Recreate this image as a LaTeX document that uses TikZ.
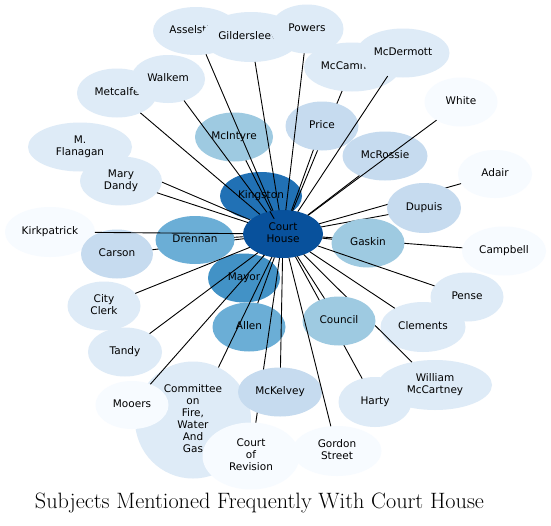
\documentclass[tikz,border=0pt]{standalone}
\usepackage{fontspec}
\usepackage{graphicx}
\newfontfamily\dvsans{DejaVu Sans}
\usetikzlibrary{shapes.geometric}
\definecolor{bz}{HTML}{F7FBFF}
\definecolor{ba}{HTML}{DEEBF7}
\definecolor{bb}{HTML}{C6DBEF}
\definecolor{bc}{HTML}{9ECAE1}
\definecolor{bd}{HTML}{6BAED6}
\definecolor{be}{HTML}{4292C6}
\definecolor{bf}{HTML}{2171B5}
\definecolor{bg}{HTML}{08519C}
\tikzset{
  bub/.style={ellipse, draw=none, inner sep=0pt, outer sep=0pt,
    font=\dvsans\fontsize{10.5}{12}\selectfont},
  link/.style={draw=black, line width=0.9pt},
}
\newcommand\bubble[7]{\node[bub, fill=#2, minimum width=#3pt, minimum height=#4pt] (#1) at (#5,#6)
  {\makebox[0pt]{\begin{tabular}{@{}c@{}}#7\end{tabular}}};}
\newcommand\lnk[1]{\draw[link] (ch) -- (#1);}
\begin{document}
\begin{tikzpicture}[x=1pt,y=-1pt]
\useasboundingbox (0,0) rectangle (551,525);
\fill[white] (0,0) rectangle (551,525);
\bubble{kingston}{bf}{82}{48}{261}{196}{Kingston}
\bubble{mayor}{be}{72}{49}{244}{278}{Mayor}
\bubble{ch}{bg}{80}{48}{283}{234}{Court\\House}
\lnk{kingston}\lnk{mayor}
\bubble{allen}{bd}{73}{49}{249}{327}{Allen}\lnk{allen}
\bubble{kirk}{bz}{90}{50}{50}{232}{Kirkpatrick}
\bubble{carson}{bb}{72}{49}{117}{254}{Carson}\lnk{carson}
\bubble{drennan}{bd}{79}{48}{195}{240}{Drennan}\lnk{drennan}
\lnk{kirk}
\bubble{flan}{ba}{104}{49}{80}{147}{M.\\Flanagan}\lnk{flan}
\bubble{dandy}{ba}{82}{49}{121}{181}{Mary\\Dandy}\lnk{dandy}
\bubble{metcalfe}{ba}{80}{49}{117}{93}{Metcalfe}\lnk{metcalfe}
\bubble{mcintyre}{bc}{78}{49}{234}{137}{McIntyre}\lnk{mcintyre}
\bubble{walkem}{ba}{74}{48}{168}{79}{Walkem}\lnk{walkem}
\bubble{assel}{ba}{86}{48}{196}{31}{Asselstine}\lnk{assel}
\bubble{gilder}{ba}{98}{50}{251}{37}{Gildersleeve}\lnk{gilder}
\bubble{mccammon}{ba}{96}{49}{352}{67}{McCammon}\lnk{mccammon}
\bubble{price}{bb}{73}{49}{322}{126}{Price}\lnk{price}
\bubble{powers}{ba}{73}{49}{307}{29}{Powers}\lnk{powers}
\bubble{mcdermott}{ba}{93}{49}{403}{53}{McDermott}\lnk{mcdermott}
\bubble{mcrossie}{bb}{85}{49}{385}{156}{McRossie}\lnk{mcrossie}
\bubble{white}{bz}{73}{49}{461}{102}{White}\lnk{white}
\bubble{adair}{bz}{74}{48}{495}{174}{Adair}\lnk{adair}
\bubble{dupuis}{bb}{74}{50}{424}{208}{Dupuis}\lnk{dupuis}
\bubble{campbell}{bz}{84}{49}{504}{251}{Campbell}\lnk{campbell}
\bubble{gaskin}{bc}{73}{49}{368}{243}{Gaskin}\lnk{gaskin}
\bubble{pense}{ba}{73}{49}{467}{297}{Pense}\lnk{pense}
\bubble{clements}{ba}{85}{50}{423}{327}{Clements}\lnk{clements}
\bubble{william}{ba}{114}{50}{435}{385}{William\\McCartney}\lnk{william}
\bubble{harty}{ba}{73}{50}{375}{402}{Harty}\lnk{harty}
\bubble{council}{bc}{73}{49}{339}{321}{Council}\lnk{council}
\bubble{committee}{ba}{116}{117}{193}{420}{Committee\\on\\Fire,\\Water\\And\\Gas}\lnk{committee}
\bubble{mooers}{bz}{73}{48}{132}{405}{Mooers}\lnk{mooers}
\bubble{revision}{bz}{97}{67}{251}{456}{Court\\of\\Revision}\lnk{revision}
\bubble{mckelvey}{bb}{84}{49}{280}{392}{McKelvey}\lnk{mckelvey}
\bubble{gordon}{bz}{89}{50}{337}{451}{Gordon\\Street}\lnk{gordon}
\bubble{cityclerk}{ba}{73}{49}{104}{306}{City\\Clerk}\lnk{cityclerk}
\bubble{tandy}{ba}{74}{49}{125}{352}{Tandy}\lnk{tandy}
\node[anchor=base, inner sep=0pt] (title) at (259.5,508)
  {\resizebox{449pt}{!}{\fontsize{17}{20}\selectfont Subjects Mentioned Frequently With Court House}};
\end{tikzpicture}
\end{document}
